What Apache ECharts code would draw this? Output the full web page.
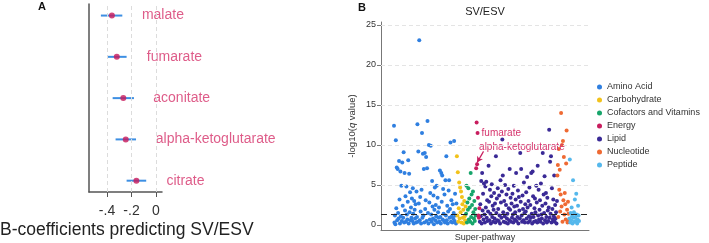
<!DOCTYPE html>
<html><head><meta charset="utf-8">
<script src="https://cdn.jsdelivr.net/npm/echarts@6/dist/echarts.min.js"></script>
<style>html,body{margin:0;padding:0;background:#fff}#c{width:709px;height:243px}</style>
</head><body><div id="c"></div>
<script>
// ---------- Panel A: B-coefficients ----------
const metabolites = ['citrate', 'alpha-ketoglutarate', 'aconitate', 'fumarate', 'malate'];
const coefEst  = [-0.16, -0.247, -0.267, -0.32, -0.36];
const coefLow  = [-0.24, -0.33, -0.354, -0.40, -0.45];
const coefHigh = [-0.08, -0.163, -0.18, -0.24, -0.275];
const coefTicks = [-0.4, -0.2, 0];
const coefTickLabels = ['-.4', '-.2', '0'];

// ---------- Panel B: -log10(q) by super-pathway ----------
const pathways = ['Amino Acid', 'Carbohydrate', 'Cofactors and Vitamins', 'Energy', 'Lipid', 'Nucleotide', 'Peptide'];
const aminoAcid = [
  12.4, 0.3, 1.2, 0.1, 10.6, 2.1, 7.2, 0.6, 7.0, 1.5,
  0.8, 8.0, 3.2, 0.2, 6.7, 1.1, 4.9, 0.5, 7.8, 2.4,
  0.9, 9.1, 0.3, 6.5, 1.8, 3.6, 0.4, 4.8, 1.3, 0.7,
  2.9, 8.1, 0.2, 6.4, 1.6, 4.1, 0.6, 2.2, 0.9, 3.3,
  0.5, 4.6, 1.4, 0.2, 3.0, 1.9, 0.8, 2.6, 0.3, 4.2,
  1.0, 12.6, 0.4, 9.2, 2.7, 23.1, 0.6, 3.5, 1.7, 0.2,
  4.4, 11.5, 0.9, 8.9, 1.2, 7.0, 0.3, 9.0, 2.0, 3.1,
  8.5, 0.5, 7.1, 13.0, 1.5, 0.2, 10.0, 2.8, 0.7, 4.0,
  9.9, 1.3, 0.4, 5.5, 2.3, 0.8, 3.7, 0.1, 1.9, 4.7,
  0.6, 2.5, 1.1, 4.9, 0.3, 3.4, 1.6, 0.9, 2.2, 0.4,
  6.8, 1.0, 0.2, 6.5, 2.9, 6.2, 0.7, 4.5, 1.4, 0.5,
  3.8, 0.3, 5.6, 1.2, 8.6, 0.6, 2.4, 0.2, 1.7, 4.3,
  5.6, 0.9, 2.0, 10.3, 0.4, 3.1, 1.1, 0.3, 2.6, 0.8,
  1.5, 10.5, 0.5, 3.9, 1.2, 0.2, 2.7
];
const carbohydrate = [8.6, 1.2, 6.6, 0.4, 2.1, 5.3, 0.8, 4.7, 1.6, 4.2, 0.3, 3.5, 2.6, 0.9, 1.9, 0.2, 3.0, 1.1, 0.6, 2.3];
const cofactors = [1.4, 4.9, 0.3, 2.8, 1.9, 4.6, 0.7, 3.3, 2.2, 0.4, 6.5, 1.0, 3.8, 2.5, 0.2, 4.2, 1.6, 0.8, 3.0, 0.5, 2.0, 1.2];
const energy = [7.1, 12.8, 7.6, 11.5, 3.4, 1.2, 0.9, 2.1];
const energyNames = ['', '', 'alpha-ketoglutarate', 'fumarate', '', '', '', ''];
const lipid = [
  0.4, 2.6, 1.1, 5.5, 0.2, 6.5, 1.8, 3.9, 0.7, 5.2,
  1.3, 0.3, 4.8, 2.2, 5.4, 0.9, 3.1, 0.5, 1.7, 7.4,
  2.9, 0.6, 4.4, 1.4, 0.2, 3.6, 5.1, 1.0, 2.4, 0.4,
  1.9, 4.0, 0.8, 2.7, 0.3, 8.6, 1.5, 3.3, 0.6, 4.6,
  2.0, 0.5, 3.7, 1.2, 0.2, 5.6, 2.8, 0.9, 4.2, 10.7,
  6.2, 1.6, 0.4, 3.0, 1.1, 5.0, 0.3, 2.5, 3.8, 0.8,
  1.4, 0.2, 4.5, 2.1, 0.6, 7.0, 1.9, 3.4, 0.4, 2.7,
  0.9, 3.9, 1.3, 0.3, 4.9, 2.3, 0.7, 1.6, 3.2, 6.5,
  0.5, 2.4, 1.0, 4.3, 0.2, 3.5, 1.8, 0.8, 9.0, 2.9,
  7.0, 1.2, 0.4, 3.7, 2.0, 0.6, 5.3, 1.5, 0.3, 2.6,
  1.7, 4.1, 0.8, 6.0, 2.2, 0.3, 3.0, 1.1, 4.7, 0.5,
  2.5, 0.9, 6.5, 1.4, 0.2, 6.7, 3.6, 1.0, 0.4, 2.1,
  3.3, 1.6, 0.5, 4.9, 2.8, 0.3, 7.4, 1.2, 4.4, 0.7,
  1.9, 3.1, 0.4, 5.2, 1.3, 0.8, 2.4, 9.0, 0.2, 3.8,
  1.5, 6.1, 0.6, 2.7, 4.0, 1.0, 0.3, 3.4, 1.8, 0.5,
  2.2, 11.9, 0.9, 7.9, 1.4, 8.6, 0.3, 4.6, 2.0, 0.7,
  3.2, 1.1, 6.2, 0.4, 2.5, 0.8, 1.6, 0.2, 3.0
];
const nucleotide = [6.2, 7.5, 1.0, 9.5, 4.4, 6.9, 1.7, 3.8, 14.0, 2.3, 10.0, 0.4, 10.5, 3.1, 8.5, 1.3, 4.0, 2.6, 0.7, 7.7, 11.8, 1.9, 0.3, 2.9, 1.4, 0.6];
const peptide = [0.8, 8.2, 0.3, 1.5, 0.6, 2.2, 1.1, 0.2, 5.6, 0.9, 1.6, 0.4, 3.2, 1.0, 0.5, 3.9, 1.3, 0.2, 0.7, 2.4, 1.2, 0.5];
const qThreshold = 1.3;
const yTicksB = [0, 5, 10, 15, 20, 25];
const gridLinesB = [5, 10, 15, 20, 25];

const pathwayValues = [aminoAcid, carbohydrate, cofactors, energy, lipid, nucleotide, peptide];
const pathwayColors = ['#2f7fe0', '#f2c21b', '#17a56b', '#c81d5e', '#3a2a96', '#ef6a33', '#55b8ec'];
const labelRed = '#d6336c';
const FONT = '"Liberation Sans", Arial, Helvetica, sans-serif';

const chart = echarts.init(document.getElementById('c'), null, {renderer: 'canvas'});

let offset = 0;
const seriesB = pathwayValues.map((vals, k) => {
  const start = offset;
  offset += vals.length;
  const s = {
    name: pathways[k], type: 'scatter', xAxisIndex: 1, yAxisIndex: 1,
    symbolSize: 4, itemStyle: {color: pathwayColors[k], opacity: 1},
    data: vals.map((v, i) => [start + i, v]),
    emphasis: {disabled: true}, animation: false, z: 3
  };
  if (k === 3) {
    s.data = vals.map((v, i) => {
      const d = {value: [start + i, v]};
      if (energyNames[i] === 'fumarate') {
        d.label = {show: true, formatter: energyNames[i], position: 'right', distance: 2,
          color: labelRed, fontSize: 10, fontFamily: FONT};
      } else if (energyNames[i] === 'alpha-ketoglutarate') {
        d.label = {show: true, formatter: energyNames[i], position: [4, -15], align: 'left', verticalAlign: 'middle',
          color: labelRed, fontSize: 10, fontFamily: FONT};
      }
      return d;
    });
    const ai = energyNames.indexOf('alpha-ketoglutarate');
    s.markLine = {
      silent: true, animation: false, symbol: ['none', 'arrow'], symbolSize: [5, 6],
      lineStyle: {color: '#c81d5e', width: 1.2, type: 'solid'}, label: {show: false},
      data: [[{coord: [start + ai + 14, energy[ai] + 1.6]}, {coord: [start + ai, energy[ai] + 0.2]}]]
    };
    s.z = 4;
  }
  if (k === 0) {
    s.markLine = {
      silent: true, animation: false, symbol: 'none', label: {show: false},
      data: gridLinesB.map(v => ({yAxis: v, lineStyle: {color: '#e4e4e4', type: [4, 3], width: 1}}))
        .concat([{yAxis: qThreshold, lineStyle: {color: '#222', type: [6, 4], width: 1}}])
    };
  }
  return s;
});
const totalB = offset;
const pxPerUnit = (579 - 394) / (totalB - 1);

const option = {
  animation: false,
  textStyle: {fontFamily: FONT},
  grid: [
    {left: 89, top: 4, width: 73, height: 188, outerBoundsMode: 'none', containLabel: false},
    {left: 381, top: 22, width: 208, height: 208, outerBoundsMode: 'none', containLabel: false}
  ],
  xAxis: [
    {type: 'value', gridIndex: 0, min: -0.547, max: 0.049,
      axisLine: {show: true, onZero: false, lineStyle: {color: '#555', width: 1.5}},
      axisTick: {show: true, customValues: coefTicks, length: 5, lineStyle: {color: '#555'}},
      axisLabel: {customValues: coefTicks, fontSize: 14, color: '#333', margin: 12,
        formatter: v => coefTickLabels[coefTicks.findIndex(t => Math.abs(t - v) < 1e-9)]},
      splitLine: {show: false}},
    {type: 'value', gridIndex: 1, min: -(394 - 381) / pxPerUnit, max: (totalB - 1) + (589 - 579) / pxPerUnit,
      axisLine: {show: true, onZero: false, lineStyle: {color: '#777', width: 1}},
      axisTick: {show: false}, axisLabel: {show: false}, splitLine: {show: false},
      name: 'Super-pathway', nameLocation: 'middle', nameGap: 3,
      nameTextStyle: {fontSize: 9, color: '#333', verticalAlign: 'top'}}
  ],
  yAxis: [
    {type: 'value', gridIndex: 0, min: 0.726, max: 5.28,
      axisLine: {show: true, onZero: false, lineStyle: {color: '#555', width: 1.5}},
      axisTick: {show: false}, axisLabel: {show: false}, splitLine: {show: false}},
    {type: 'value', gridIndex: 1, min: -0.625, max: 25.375,
      axisLine: {show: true, onZero: false, lineStyle: {color: '#777', width: 1}},
      axisTick: {show: true, customValues: yTicksB, length: 4, lineStyle: {color: '#777'}},
      axisLabel: {customValues: yTicksB, fontSize: 9, color: '#333', margin: 5},
      splitLine: {show: false},
      name: '-log10({i|q} value)', nameLocation: 'middle', nameGap: 24,
      nameTextStyle: {fontSize: 9.5, color: '#333', rich: {i: {fontStyle: 'italic', fontSize: 9.5, color: '#333'}}}}
  ],
  legend: {
    orient: 'vertical', left: 597, top: 82, padding: 0, itemGap: 3,
    itemWidth: 5, itemHeight: 5, icon: 'circle', selectedMode: false,
    textStyle: {fontSize: 9, color: '#333', lineHeight: 10},
    data: pathways
  },
  graphic: [
    {type: 'text', x: 42, y: 7, style: {text: 'A', font: 'bold 11px ' + FONT, fill: '#111', align: 'center', verticalAlign: 'middle'}},
    {type: 'text', x: 362, y: 8, style: {text: 'B', font: 'bold 11px ' + FONT, fill: '#111', align: 'center', verticalAlign: 'middle'}},
    {type: 'text', x: 0, y: 230, style: {text: 'B-coefficients predicting SV/ESV', font: '17.5px ' + FONT, fill: '#222', align: 'left', verticalAlign: 'middle'}},
    {type: 'text', x: 485, y: 12, style: {text: 'SV/ESV', font: '11px ' + FONT, fill: '#222', align: 'center', verticalAlign: 'middle'}}
  ],
  series: [
    {type: 'custom', xAxisIndex: 0, yAxisIndex: 0, animation: false, silent: true,
      data: metabolites.map((m, i) => [coefLow[i], coefHigh[i], i + 1]),
      encode: {x: [0, 1], y: 2},
      renderItem: (params, api) => {
        const a = api.coord([api.value(0), api.value(2)]);
        const b = api.coord([api.value(1), api.value(2)]);
        return {type: 'line', shape: {x1: a[0], y1: a[1], x2: b[0], y2: b[1]},
          style: {stroke: '#3d8fe3', lineWidth: 2}};
      }, z: 2},
    {type: 'scatter', xAxisIndex: 0, yAxisIndex: 0, symbolSize: 6, z: 3,
      itemStyle: {color: '#c8185a'}, emphasis: {disabled: true},
      data: metabolites.map((m, i) => [coefEst[i], i + 1, m]),
      label: {show: true, position: 'right', distance: 27, formatter: p => p.data[2],
        fontSize: 14, color: labelRed, fontFamily: FONT},
      markLine: {silent: true, animation: false, symbol: 'none', label: {show: false},
        lineStyle: {color: '#dcdcdc', type: [4, 3], width: 1},
        data: coefTicks.map(t => ({xAxis: t}))}}
  ].concat(seriesB)
};
chart.setOption(option);
</script>
</body></html>
